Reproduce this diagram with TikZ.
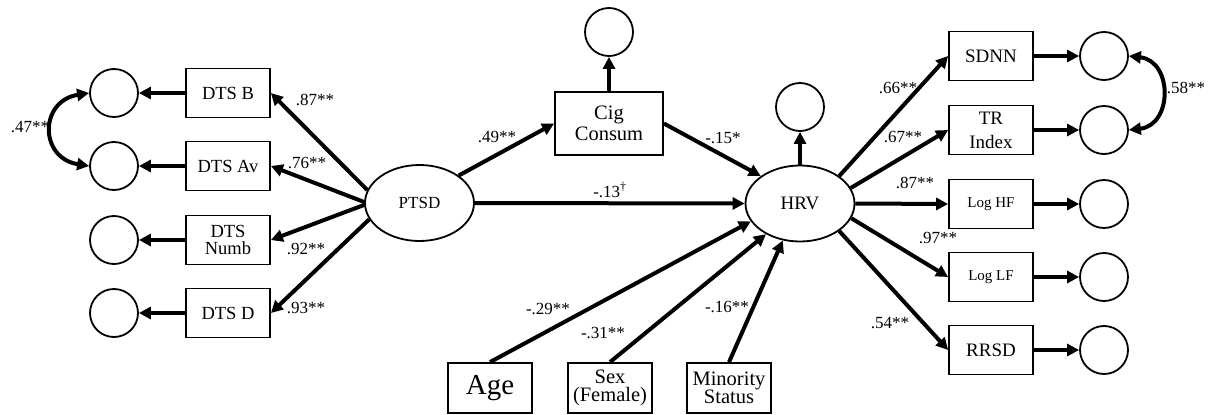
\documentclass[tikz,border=0pt]{standalone}
\usepackage{fontspec}
\setmainfont{Liberation Serif}
\usetikzlibrary{arrows.meta,shapes.geometric}
\begin{document}
\begin{tikzpicture}[x=1pt,y=-1pt,
  box/.style={draw,line width=1.8pt,minimum width=84pt,minimum height=49pt,inner sep=0pt,align=center,font=\fontsize{18.5}{17}\selectfont},
  err/.style={circle,draw,line width=1.8pt,minimum size=48pt,inner sep=0pt},
  lat/.style={ellipse,draw,line width=1.8pt,inner sep=0pt,minimum width=109pt,minimum height=76pt},
  arr/.style={line width=4pt,-{Triangle[length=12pt,width=12pt]}},
  corr/.style={line width=4pt,{Triangle[length=12pt,width=12pt]}-{Triangle[length=12pt,width=12pt]}},
  lbl/.style={inner sep=0pt,font=\fontsize{17}{17}\selectfont}]
\useasboundingbox (0,0) rectangle (1216,415);

% left side
\node[err] (c1) at (114,93) {};
\node[err] (c2) at (114,166) {};
\node[err] (c3) at (114,240) {};
\node[err] (c4) at (114,313) {};
\node[box] (dtsb) at (228,93) {DTS B};
\node[box] (dtsav) at (228,166) {DTS Av};
\node[box] (dtsnumb) at (228,240) {DTS\\Numb};
\node[box] (dtsd) at (228,313) {DTS D};
\node[lat,font=\fontsize{17}{17}\selectfont] (ptsd) at (419.5,203) {PTSD};

% middle
\node[box,minimum width=108pt,minimum height=63pt,font=\fontsize{20.5}{21}\selectfont] (cig) at (609,123.5) {Cig\\Consum};
\node[err] (cigerr) at (609,32) {};
\node[lat,font=\fontsize{19}{19}\selectfont] (hrv) at (800,203.5) {HRV};
\node[err] (hrverr) at (800,107) {};
\node[box,minimum height=50pt,font=\fontsize{29}{29}\selectfont] (age) at (490,388) {Age};
\node[box,minimum height=50pt,font=\fontsize{20.5}{18}\selectfont] (sex) at (610,388) {Sex\\(Female)};
\node[box,minimum height=50pt,font=\fontsize{20.5}{18}\selectfont] (minority) at (729,388) {Minority\\Status};

% right side
\node[box,font=\fontsize{19}{19}\selectfont] (sdnn) at (991,56) {SDNN};
\node[box,font=\fontsize{19}{24}\selectfont] (tr) at (991,130) {TR\\Index};
\node[box,font=\fontsize{15}{15}\selectfont] (loghf) at (991,204) {Log HF};
\node[box,font=\fontsize{15}{15}\selectfont] (loglf) at (991,277) {Log LF};
\node[box,font=\fontsize{19}{19}\selectfont] (rrsd) at (991,350) {RRSD};
\node[err] (e1) at (1104,56) {};
\node[err] (e2) at (1104,130) {};
\node[err] (e3) at (1104,204) {};
\node[err] (e4) at (1104,277) {};
\node[err] (e5) at (1104,350) {};

% left connectors
\draw[arr] (dtsb.west) -- (c1.east);
\draw[arr] (dtsav.west) -- (c2.east);
\draw[arr] (dtsnumb.west) -- (c3.east);
\draw[arr] (dtsd.west) -- (c4.east);
\draw[corr] (c1.west) .. controls +(-50,8) and +(-50,-8) .. (c2.west);
\draw[arr] (ptsd.166) -- (dtsb.east);
\draw[arr] (ptsd.179) -- (dtsav.east);
\draw[arr] (ptsd.182) -- (dtsnumb.east);
\draw[arr] (ptsd.198) -- (dtsd.east);

% middle connectors
\draw[arr] (ptsd.35) -- (cig.west);
\draw[arr] (cig.north) -- (cigerr.south);
\draw[arr] (cig.east) -- (hrv.145);
\draw[arr] (ptsd.east) -- (hrv.west);
\draw[arr] (hrv.north) -- (hrverr.south);
\draw[arr] (age.north) -- (hrv.200);
\draw[arr] (sex.north) -- (hrv.222);
\draw[arr] (minority.north) -- (hrv.245);

% right connectors
\draw[arr] (hrv.35) -- (sdnn.west);
\draw[arr] (hrv.17) -- (tr.west);
\draw[arr] (hrv.east) -- (loghf.west);
\draw[arr] (hrv.-16) -- (loglf.west);
\draw[arr] (hrv.-35) -- (rrsd.west);
\draw[arr] (sdnn.east) -- (e1.west);
\draw[arr] (tr.east) -- (e2.west);
\draw[arr] (loghf.east) -- (e3.west);
\draw[arr] (loglf.east) -- (e4.west);
\draw[arr] (rrsd.east) -- (e5.west);
\draw[corr] (e1.east) .. controls +(44,5) and +(44,-5) .. (e2.east);

% labels
\node[lbl] (l47) at (30,127) {.47**};
\node[lbl] (l87a) at (315,100) {.87**};
\node[lbl] (l76) at (307,163) {.76**};
\node[lbl] (l92) at (306,249) {.92**};
\node[lbl] (l93) at (306,308) {.93**};
\node[lbl] (l49) at (497,137) {.49**};
\node[lbl] (l15) at (723,138) {-.15*};
\node[lbl] (l13) at (610,190) {-.13\textsuperscript{†}};
\node[lbl] (l29) at (548,309) {-.29**};
\node[lbl] (l31) at (603,333) {-.31**};
\node[lbl] (l16) at (727,307) {-.16**};
\node[lbl] (l66) at (898,88) {.66**};
\node[lbl] (l67) at (903,137) {.67**};
\node[lbl] (l87b) at (915,183) {.87**};
\node[lbl] (l97) at (938,238) {.97**};
\node[lbl] (l54) at (890,323) {.54**};
\node[lbl] (l58) at (1186,88) {.58**};
\end{tikzpicture}
\end{document}
